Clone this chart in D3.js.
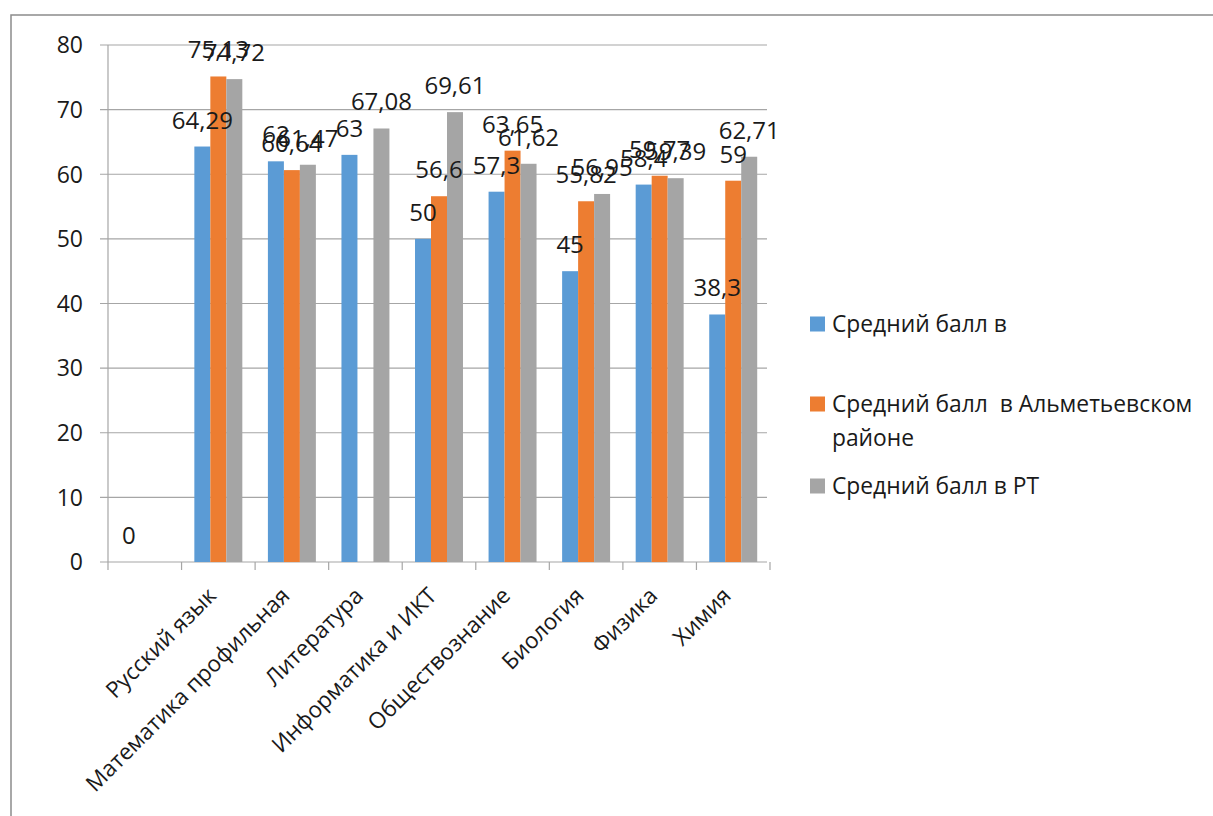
<!DOCTYPE html>
<html>
<head>
<meta charset="utf-8">
<script src="https://cdn.jsdelivr.net/npm/d3@7"></script>
<style>
  body { margin: 0; background: #fff; }
  svg text { font-family: "Open Sans", sans-serif; fill: #1a1a1a; }
</style>
</head>
<body>
<svg id="chart" width="1213" height="816"></svg>
<script>
// data
const categories = ['', 'Русский язык', 'Математика профильная', 'Литература', 'Информатика и ИКТ',
    'Обществознание', 'Биология', 'Физика', 'Химия']
const seriesNames = ['Средний балл в', 'Средний балл  в Альметьевском районе', 'Средний балл в РТ']
const schoolAvg = [0, 64.29, 62, 63, 50, 57.3, 45, 58.4, 38.3]
const districtAvg = [null, 75.13, 60.64, null, 56.6, 63.65, 55.82, 59.77, 59]
const republicAvg = [null, 74.72, 61.47, 67.08, 69.61, 61.62, 56.95, 59.39, 62.71]
const yTicks = [0, 10, 20, 30, 40, 50, 60, 70, 80]
const colors = ['#5B9BD5', '#ED7D31', '#A5A5A5']

const seriesValues = [schoolAvg, districtAvg, republicAvg]

const svg = d3.select('#chart')

// outer frame of the chart area
svg.append('rect')
    .attr('x', 11).attr('y', 15)
    .attr('width', 1300).attr('height', 900)
    .style('fill', 'none')
    .style('stroke', '#8c8c8c')
    .style('stroke-width', 1.5)

const x0 = d3.scaleBand().domain(categories.map((d, i) => i)).range([108, 770])
const x1 = d3.scaleBand().domain([0, 1, 2]).range([0, x0.bandwidth()]).paddingOuter(0.8)
const y = d3.scaleLinear().domain([0, 80]).range([562, 45])

// gridlines
svg.selectAll('.grid')
    .data(yTicks)
    .enter()
    .append('line')
    .attr('class', 'grid')
    .attr('x1', 100).attr('x2', 767)
    .attr('y1', d => y(d)).attr('y2', d => y(d))
    .style('stroke', '#a6a6a6')
    .style('stroke-width', 1.2)

// y axis line + labels
svg.append('line')
    .attr('x1', 108).attr('x2', 108)
    .attr('y1', y(80)).attr('y2', y(0))
    .style('stroke', '#a6a6a6').style('stroke-width', 1.2)

svg.selectAll('.ytick')
    .data(yTicks)
    .enter()
    .append('text')
    .attr('class', 'ytick')
    .attr('x', 83)
    .attr('y', d => y(d))
    .attr('dy', '0.36em')
    .attr('text-anchor', 'end')
    .style('font-size', '23px')
    .text(d => d)

// x axis ticks at category boundaries
const boundaries = categories.map((d, i) => x0(i)).concat([x0(categories.length - 1) + x0.bandwidth()])
svg.selectAll('.xtick')
    .data(boundaries)
    .enter()
    .append('line')
    .attr('x1', d => d).attr('x2', d => d)
    .attr('y1', y(0)).attr('y2', y(0) + 8)
    .style('stroke', '#a6a6a6').style('stroke-width', 1.2)

// category labels, rotated
svg.selectAll('.xlabel')
    .data(categories)
    .enter()
    .append('text')
    .attr('class', 'xlabel')
    .attr('transform', (d, i) => 'translate(' + (x0(i) + x0.bandwidth() / 2 - 12) + ',' + 586 + ') rotate(-45)')
    .attr('text-anchor', 'end')
    .attr('dy', '0.7em')
    .style('font-size', '22.5px')
    .text(d => d)

// bars first, labels after so they sit on top
const allPts = []
seriesValues.forEach(function(values, s){
    const pts = values.map((v, i) => ({i: i, v: v, s: s})).filter(d => d.v !== null)
    pts.forEach(p => allPts.push(p))

    svg.selectAll('.bar-' + s)
        .data(pts)
        .enter()
        .append('rect')
        .attr('class', 'bar-' + s)
        .attr('x', d => x0(d.i) + x1(s))
        .attr('width', x1.bandwidth())
        .attr('y', d => y(d.v))
        .attr('height', d => y(0) - y(d.v))
        .style('fill', colors[s])
})

svg.selectAll('.lbl')
    .data(allPts)
    .enter()
    .append('text')
    .attr('class', 'lbl')
    .attr('x', d => x0(d.i) + x1(d.s) + x1.bandwidth() / 2)
    .attr('y', d => y(d.v) - 18)
    .attr('text-anchor', 'middle')
    .style('font-size', '24px')
    .text(d => String(d.v).replace('.', ','))

// legend
const legendRows = [
    {lines: ['Средний балл в'], y: 324},
    {lines: ['Средний балл  в Альметьевском', 'районе'], y: 404},
    {lines: ['Средний балл в РТ'], y: 486}
]
legendRows.forEach(function(row, s){
    svg.append('rect')
        .attr('x', 810).attr('y', row.y - 7.5)
        .attr('width', 15).attr('height', 15)
        .style('fill', colors[s])
    const t = svg.append('text')
        .attr('x', 832).attr('y', row.y)
        .style('font-size', '22.8px')
        .style('white-space', 'pre')
    row.lines.forEach(function(line, k){
        t.append('tspan')
            .attr('x', 832)
            .attr('dy', k == 0 ? '0.36em' : '34px')
            .text(line)
    })
})
</script>
</body>
</html>
